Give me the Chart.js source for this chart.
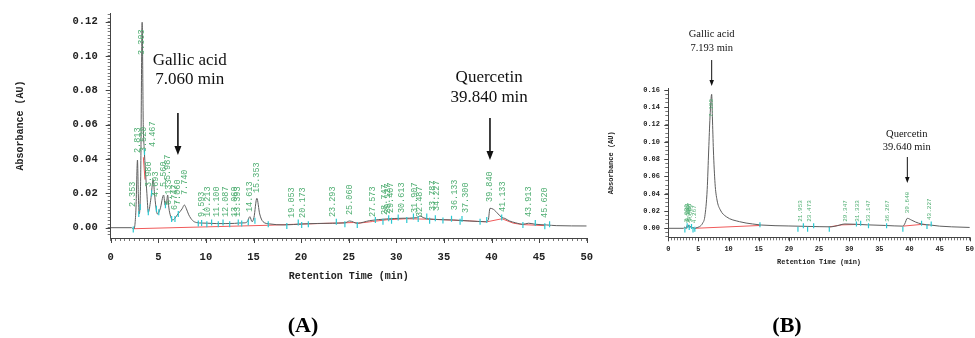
<!DOCTYPE html>
<html><head><meta charset="utf-8">
<script src="https://cdn.jsdelivr.net/npm/chart.js@4.4.1/dist/chart.umd.min.js"></script>
<style>
html,body{margin:0;padding:0;background:#fff;}
#wrap{position:relative;width:975px;height:338px;overflow:hidden;background:#fff;}
canvas{position:absolute;top:0;}
#cA{left:0;} #cB{left:600px;}
.pl{position:absolute;top:312px;font:bold 22px "Liberation Serif",serif;color:#000;transform:translateX(-50%);white-space:nowrap;}
</style></head><body>
<div id="wrap">
<canvas id="cA" width="600" height="338"></canvas>
<canvas id="cB" width="375" height="338"></canvas>
<div class="pl" style="left:303px">(A)</div>
<div class="pl" style="left:787px">(B)</div>
</div>
<script>
// ---------- Chromatogram A ----------
const timeA = [0, 2.2, 2.4, 2.55, 2.66, 2.813, 2.9, 3.0, 3.15, 3.303, 3.42, 3.52, 3.65, 3.8, 3.95, 4.2, 4.467, 4.6, 4.75, 4.9, 5.2, 5.56, 5.72, 5.85, 5.987, 6.1, 6.3, 6.5, 6.75, 7.06, 7.3, 7.5, 7.74, 7.95, 8.2, 8.6, 9.0, 9.6, 10.2, 11.1, 12.1, 13.0, 13.4, 14.0, 14.35, 14.613, 14.85, 15.05, 15.353, 15.65, 16.0, 16.7, 18.2, 20.2, 23.3, 24.6, 25.1, 25.9, 27.2, 29.0, 30.7, 32.1, 32.5, 32.9, 33.9, 36.0, 37.7, 39.3, 39.66, 39.84, 40.2, 40.7, 41.07, 41.4, 41.9, 42.5, 43.3, 43.9, 44.6, 45.8, 46.8, 50];
const absA  = [0, 0, -0.0008, 0.002, 0.012, 0.0394, 0.02, 0.008, 0.03, 0.1196, 0.06, 0.046, 0.033, 0.02, 0.009, 0.016, 0.028, 0.02, 0.012, 0.008, 0.011, 0.019, 0.013, 0.014, 0.019, 0.012, 0.0065, 0.0045, 0.0055, 0.008, 0.0095, 0.011, 0.0132, 0.011, 0.0075, 0.0042, 0.003, 0.0027, 0.0026, 0.0024, 0.0024, 0.0025, 0.0027, 0.0028, 0.0035, 0.0064, 0.0035, 0.006, 0.0171, 0.008, 0.0035, 0.0022, 0.0016, 0.0022, 0.0026, 0.0028, 0.0039, 0.0026, 0.0041, 0.0051, 0.0055, 0.0058, 0.0068, 0.0057, 0.0049, 0.0045, 0.0039, 0.0035, 0.0045, 0.0113, 0.0107, 0.008, 0.006, 0.0054, 0.0039, 0.0029, 0.002, 0.0026, 0.002, 0.0016, 0.0012, 0.001];
const redTimeA = [3.43, 3.6, null, 2.4, 16.5, 18.3, 23.0, 25.5, 26.0, 27.5, 29.0, 31.0, 33.0, 35.0, 37.5, 39.5, 41.1, 42.3, 43.3, 45.6];
const redAbsA  = [0.041, 0.028, null, -0.0006, 0.0014, 0.0018, 0.0026, 0.0030, 0.0026, 0.0036, 0.0046, 0.0052, 0.0050, 0.0046, 0.0040, 0.0034, 0.0052, 0.0026, 0.0018, 0.0012];
const markTimeA = [2.37, 2.95, 3.1, 3.55, 3.95, 4.3, 4.8, 5.05, 5.75, 6.4, 6.75, 7.1, 9.2, 9.55, 10.1, 10.6, 11.3, 11.8, 12.5, 13.4, 13.76, 14.45, 15.15, 16.55, 18.5, 19.7, 20.06, 20.76, 23.7, 24.6, 25.9, 27.8, 28.6, 29.2, 29.5, 30.2, 31.1, 31.8, 32.3, 33.2, 33.5, 34.1, 34.9, 35.8, 36.7, 36.9, 38.8, 39.5, 41.07, 43.3, 44.6, 45.6, 46.1];
const markAbsA  = [-0.001, 0.008, 0.012, 0.044, 0.009, 0.02, 0.011, 0.009, 0.013, 0.005, 0.005, 0.008, 0.0025, 0.0028, 0.002, 0.003, 0.002, 0.003, 0.002, 0.003, 0.0025, 0.003, 0.004, 0.002, 0.001, 0.003, 0.0015, 0.002, 0.0035, 0.002, 0.0015, 0.0045, 0.0035, 0.0055, 0.004, 0.006, 0.0045, 0.0065, 0.005, 0.0065, 0.004, 0.0055, 0.0042, 0.0052, 0.0035, 0.005, 0.0035, 0.0045, 0.006, 0.0015, 0.0028, 0.0008, 0.002];
const peakTimeA = [2.353, 2.813, 3.303, 3.520, 3.980, 4.467, 4.693, 5.560, 5.987, 6.133, 6.747, 7.060, 7.740, 9.593, 10.213, 11.100, 12.087, 13.060, 13.393, 14.613, 15.353, 19.053, 20.173, 23.293, 25.060, 27.573, 28.747, 29.127, 29.407, 30.613, 31.907, 32.487, 33.787, 34.227, 36.133, 37.300, 39.840, 41.133, 43.913, 45.620];
const peakBaseA = [0.012, 0.0435, 0.1006, 0.044, 0.0237, 0.047, 0.0179, 0.0237, 0.0277, 0.0132, 0.0103, 0.0132, 0.019, 0.0062, 0.0062, 0.0062, 0.0062, 0.0062, 0.0062, 0.0091, 0.0202, 0.0057, 0.0057, 0.0062, 0.0074, 0.0062, 0.0074, 0.008, 0.0085, 0.0085, 0.0085, 0.0062, 0.0097, 0.0097, 0.0102, 0.0085, 0.015, 0.0091, 0.0062, 0.0057];
const xMajor = [0, 5, 10, 15, 20, 25, 30, 35, 40, 45, 50];
const xLabels = ['0', '5', '10', '15', '20', '25', '30', '35', '40', '45', '50'];
const yMajorA = [0, 0.02, 0.04, 0.06, 0.08, 0.10, 0.12];
const yLabelsA = ['0.00', '0.02', '0.04', '0.06', '0.08', '0.10', '0.12'];
const annotTextA = [['Gallic acid', '7.060 min'], ['Quercetin', '39.840 min']];
const annotTextTimeA = [8.3, 39.75];
const annotLine1A = [0.0971, 0.0872];
const annotLine2A = [0.0860, 0.0756];
const arrowTimeA = [7.06, 39.84];
const arrowTopA = [0.0668, 0.0639];
const arrowTipA = [0.0423, 0.0394];

// ---------- Chromatogram B ----------
const timeB = [0, 2.5, 2.75, 2.95, 3.1, 3.25, 3.4, 3.55, 3.7, 3.9, 4.1, 4.3, 4.6, 5.2, 5.7, 6.05, 6.45, 6.7, 6.92, 7.193, 7.31, 7.48, 7.75, 8.08, 8.63, 9.62, 11.8, 14.0, 15.4, 20.0, 25.0, 27.0, 28.0, 29.3, 31.0, 33.0, 36.0, 38.9, 39.2, 39.64, 40.3, 41.0, 42.0, 43.2, 45.0, 47.0, 50.0];
const absB  = [0, 0, 0.0015, -0.0005, 0.003, 0.001, 0.004, 0.0005, 0.0025, 0.0, 0.0015, -0.0008, 0.0005, 0.002, 0.006, 0.0134, 0.045, 0.0906, 0.129, 0.155, 0.129, 0.0906, 0.052, 0.0327, 0.0212, 0.0134, 0.0077, 0.005, 0.0038, 0.0027, 0.0019, 0.0017, 0.003, 0.005, 0.0047, 0.004, 0.0033, 0.0025, 0.005, 0.0116, 0.0096, 0.0073, 0.005, 0.004, 0.0025, 0.0017, 0.001];
const redTimeB = [4.4, 15.3, null, 26.6, 28.8, 31.1, null, 38.9, 42.0, 43.2];
const redAbsB  = [0.0, 0.0033, null, 0.0015, 0.0040, 0.0044, null, 0.0025, 0.0045, 0.0038];
const markTimeB = [2.75, 3.13, 3.47, 3.85, 4.1, 4.4, 15.2, 21.5, 22.4, 23.1, 24.1, 26.7, 31.2, 31.9, 33.2, 36.2, 38.9, 42.0, 42.9, 43.6];
const markAbsB  = [-0.002, 0.003, 0.001, 0.002, -0.002, -0.001, 0.004, -0.001, 0.003, -0.001, 0.003, -0.001, 0.005, 0.006, 0.003, 0.003, -0.001, 0.006, 0.002, 0.005];
const peakTimeB = [3.080, 3.213, 3.380, 3.467, 3.600, 4.267, 7.193, 21.953, 23.473, 29.347, 31.333, 33.147, 36.267, 39.640, 43.227];
const peakBaseB = [0.007, 0.008, 0.006, 0.009, 0.007, 0.006, 0.1288, 0.0076, 0.0076, 0.0076, 0.0076, 0.0076, 0.0076, 0.0174, 0.0096];
const yMajorB = [0, 0.02, 0.04, 0.06, 0.08, 0.10, 0.12, 0.14, 0.16];
const yLabelsB = ['0.00', '0.02', '0.04', '0.06', '0.08', '0.10', '0.12', '0.14', '0.16'];
const annotTextB = [['Gallic acid', '7.193 min'], ['Quercetin', '39.640 min']];
const annotTextTimeB = [7.193, 39.55];
const annotLine1B = [0.2248, 0.1091];
const annotLine2B = [0.2086, 0.0941];
const arrowTimeB = [7.193, 39.64];
const arrowTopB = [0.1947, 0.0825];
const arrowTipB = [0.1646, 0.0524];

// ---------- helpers ----------
function steps(a, b, step) { const r = []; const n = Math.round((b - a) / step); for (let i = 0; i <= n; i++) r.push(+(a + i * step).toFixed(6)); return r; }
function pts(xs, ys) { return xs.map((t, i) => ({ x: t === null ? NaN : t, y: ys[i] })); }
function labeler(majors, labels) { return v => { const k = majors.findIndex(m => Math.abs(m - v) < 1e-9); return k < 0 ? '' : labels[k]; }; }

function peakLabelPlugin(times, bases, size) {
  return { id: 'peakLabels', afterDatasetsDraw(chart) {
    const { ctx, scales: { x, y } } = chart;
    ctx.save();
    ctx.fillStyle = '#4fae72';
    ctx.font = size + 'px "Liberation Mono", monospace';
    ctx.textAlign = 'left'; ctx.textBaseline = 'middle';
    times.forEach((t, i) => {
      ctx.save();
      ctx.translate(x.getPixelForValue(t), y.getPixelForValue(bases[i]));
      ctx.rotate(-Math.PI / 2);
      ctx.fillText(t.toFixed(3), 0, 0);
      ctx.restore();
    });
    ctx.restore();
  } };
}
function majorTickPlugin(yMajor, len) {
  return { id: 'majorTicks', afterDraw(chart) {
    const { ctx, scales: { x, y }, chartArea } = chart;
    ctx.save();
    ctx.strokeStyle = '#444'; ctx.lineWidth = 1;
    ctx.beginPath();
    xMajor.forEach(v => { const px = Math.round(x.getPixelForValue(v)) + 0.5; ctx.moveTo(px, chartArea.bottom); ctx.lineTo(px, chartArea.bottom + len); });
    yMajor.forEach(v => { const py = Math.round(y.getPixelForValue(v)) + 0.5; ctx.moveTo(chartArea.left, py); ctx.lineTo(chartArea.left - len, py); });
    ctx.stroke();
    ctx.restore();
  } };
}
function annotPlugin(a, size, lw, hw, hh) {
  return { id: 'annots', afterDraw(chart) {
    const { ctx, scales: { x, y } } = chart;
    ctx.save();
    ctx.fillStyle = '#111'; ctx.strokeStyle = '#111';
    ctx.font = size + 'px "Liberation Serif", "Times New Roman", serif';
    ctx.textAlign = 'center'; ctx.textBaseline = 'middle';
    a.text.forEach((lines, i) => {
      const tx = x.getPixelForValue(a.textTime[i]);
      ctx.fillText(lines[0], tx, y.getPixelForValue(a.l1[i]));
      ctx.fillText(lines[1], tx, y.getPixelForValue(a.l2[i]));
      const ax = x.getPixelForValue(a.arrowTime[i]);
      const top = y.getPixelForValue(a.top[i]);
      const tip = y.getPixelForValue(a.tip[i]);
      ctx.lineWidth = lw;
      ctx.beginPath(); ctx.moveTo(ax, top); ctx.lineTo(ax, tip - hh + 1); ctx.stroke();
      ctx.beginPath(); ctx.moveTo(ax - hw / 2, tip - hh); ctx.lineTo(ax + hw / 2, tip - hh); ctx.lineTo(ax, tip); ctx.closePath(); ctx.fill();
    });
    ctx.restore();
  } };
}

function build(canvasId, o) {
  const monoFont = (s) => ({ family: '"Liberation Mono", "Courier New", monospace', size: s, weight: 'bold' });
  return new Chart(document.getElementById(canvasId), {
    type: 'line',
    data: { datasets: [
      { data: pts(o.markT, o.markV), showLine: false, pointStyle: 'line', rotation: 90, pointRadius: o.markR, pointBorderColor: '#2cc9d2', pointBorderWidth: 1.2, borderColor: '#2cc9d2' },
      { data: pts(o.t, o.v), borderColor: '#5e5e5e', borderWidth: 1, pointRadius: 0, cubicInterpolationMode: 'monotone', fill: false },
      { data: pts(o.redT, o.redV), borderColor: '#f05a5a', borderWidth: 1, pointRadius: 0, tension: 0, spanGaps: false, fill: false }
    ] },
    options: {
      responsive: false, animation: false, events: [],
      layout: { padding: o.pad },
      plugins: { legend: { display: false }, tooltip: { enabled: false } },
      scales: {
        x: { type: 'linear', min: 0, max: 50,
          afterBuildTicks: s => { s.ticks = steps(0, 50, 0.5).map(v => ({ value: v })); },
          afterFit: s => { s.height = o.xh; s.paddingLeft = 0; s.paddingRight = 0; },
          border: { color: '#444', width: 1 },
          grid: { drawOnChartArea: false, tickLength: 3, color: '#555', tickWidth: 0.8 },
          ticks: { autoSkip: false, maxRotation: 0, minRotation: 0, padding: o.xpad, color: '#222', font: monoFont(o.tick), callback: labeler(xMajor, xLabels) },
          title: { display: true, text: 'Retention Time (min)', color: '#222', font: monoFont(o.title), padding: { top: 0, bottom: 0 } } },
        y: { type: 'linear', min: o.ymin, max: o.ymax,
          afterBuildTicks: s => { s.ticks = steps(o.yminor0, o.yminor1, o.ystep).map(v => ({ value: v })); },
          afterFit: s => { s.width = o.yw; s.paddingTop = 0; s.paddingBottom = 0; },
          border: { color: '#444', width: 1 },
          grid: { drawOnChartArea: false, tickLength: 3, color: '#555', tickWidth: 0.8 },
          ticks: { autoSkip: false, padding: o.ypad, color: '#222', font: monoFont(o.tick), callback: labeler(o.yMajor, o.yLabels) },
          title: { display: true, text: 'Absorbance (AU)', color: '#222', font: monoFont(o.title), padding: { top: o.ytitlePad, bottom: 0 } } }
      }
    },
    plugins: [majorTickPlugin(o.yMajor, o.majorLen), peakLabelPlugin(o.peakT, o.peakB, o.peakSize), annotPlugin(o.annot, o.annotSize, o.arrowW, o.headW, o.headH)]
  });
}

build('cA', {
  t: timeA, v: absA, redT: redTimeA, redV: redAbsA, markT: markTimeA, markV: markAbsA, markR: 3,
  pad: { left: 0, right: 13.3, top: 13, bottom: 56 }, xh: 44, yw: 110.7,
  ymin: -0.006, ymax: 0.125, yminor0: -0.004, yminor1: 0.124, ystep: 0.002,
  yMajor: yMajorA, yLabels: yLabelsA, tick: 10.5, title: 10, xpad: 10, ypad: 10, ytitlePad: 14, majorLen: 5,
  peakT: peakTimeA, peakB: peakBaseA, peakSize: 8.5,
  annot: { text: annotTextA, textTime: annotTextTimeA, l1: annotLine1A, l2: annotLine2A, arrowTime: arrowTimeA, top: arrowTopA, tip: arrowTipA },
  annotSize: 17, arrowW: 1.6, headW: 7, headH: 9
});
build('cB', {
  t: timeB, v: absB, redT: redTimeB, redV: redAbsB, markT: markTimeB, markV: markAbsB, markR: 2.5,
  pad: { left: 0, right: 3.3, top: 88.3, bottom: 71.8 }, xh: 28.9, yw: 68.3,
  ymin: -0.0104, ymax: 0.162, yminor0: -0.01, yminor1: 0.16, ystep: 0.005,
  yMajor: yMajorB, yLabels: yLabelsB, tick: 7, title: 7, xpad: 4.5, ypad: 5.3, ytitlePad: 7, majorLen: 4,
  peakT: peakTimeB, peakB: peakBaseB, peakSize: 6,
  annot: { text: annotTextB, textTime: annotTextTimeB, l1: annotLine1B, l2: annotLine2B, arrowTime: arrowTimeB, top: arrowTopB, tip: arrowTipB },
  annotSize: 10.5, arrowW: 1, headW: 4.5, headH: 6
});
</script>
</body></html>
